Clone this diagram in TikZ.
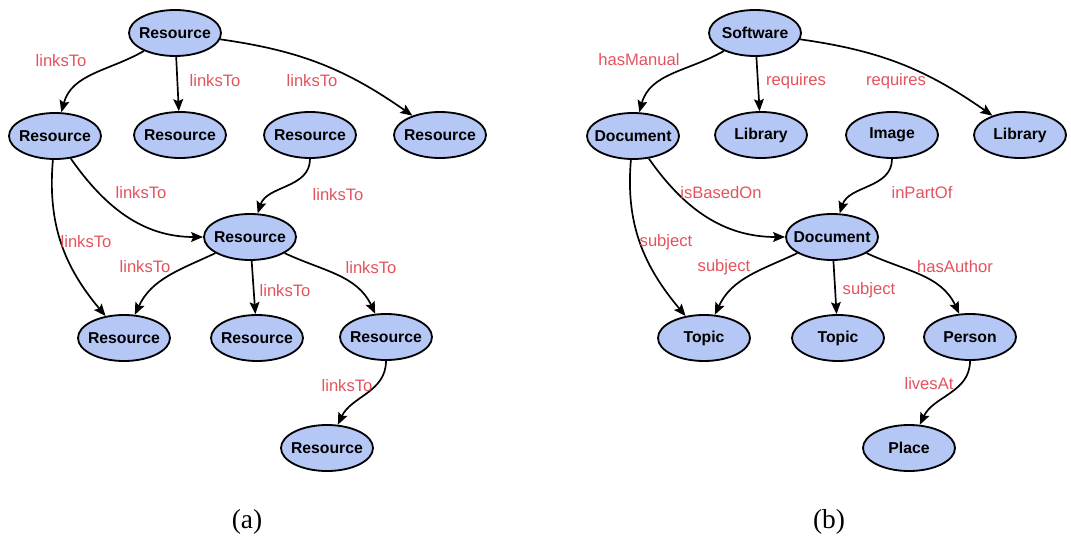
\documentclass[tikz,border=0pt]{standalone}
\usepackage{fontspec}
\setmainfont{Liberation Serif}
\setsansfont{Liberation Sans}
\usetikzlibrary{shapes.geometric,arrows.meta}
\definecolor{nodeblue}{RGB}{181,199,245}
\definecolor{linkred}{RGB}{228,82,92}

\begin{document}
\begin{tikzpicture}
[
    x=0.025cm, y=0.025cm,
    res/.style={ellipse, draw=black, line width=1.3pt, fill=nodeblue,
        minimum width=2.3cm, minimum height=1.15cm, inner xsep=-20pt, inner ysep=0pt,
        font=\sffamily\bfseries\fontsize{11.2}{13}\selectfont},
    rel/.style={-{Stealth[length=8.5pt,width=7pt,inset=1.5pt]}, line width=1.2pt},
    lbl/.style={text=linkred, font=\sffamily\fontsize{11.8}{13}\selectfont},
    subcapt/.style={font=\rmfamily\fontsize{19.5}{22}\selectfont},
]
\useasboundingbox (0,0) rectangle (1071,-539);

% (a)
\node [res] (aTop) at (175,-33) {Resource};
\node [res] (aL1) at (55,-136) {Resource};
\node [res] (aL2) at (180,-135) {Resource};
\node [res] (aL3) at (310,-135) {Resource};
\node [res] (aL4) at (440,-135) {Resource};
\node [res] (aMid) at (250,-237) {Resource};
\node [res] (aB1) at (124,-338) {Resource};
\node [res] (aB2) at (257,-338) {Resource};
\node [res] (aB3) at (386,-337) {Resource};
\node [res] (aB4) at (327,-448) {Resource};

\draw [rel] (aTop) to[out=210, in=75] (aL1);
\draw [rel] (aTop) -- (aL2);
\draw [rel] (aTop) to[out=-8, in=145] (aL4);
\draw [rel] (aL3) to[out=-90, in=72] (aMid);
\draw [rel] (aL1) to[out=-55, in=180] (aMid);
\draw [rel] (aL1) to[out=-95, in=130] (aB1);
\draw [rel] (aMid) to[out=205, in=65] (aB1);
\draw [rel] (aMid) -- (aB2);
\draw [rel] (aMid) to[out=-25, in=115] (aB3);
\draw [rel] (aB3) to[out=-90, in=65] (aB4);

\node [lbl] (aT1) at (61,-61) {linksTo};
\node [lbl] (aT2) at (215,-81) {linksTo};
\node [lbl] (aT3) at (312,-81) {linksTo};
\node [lbl] (aT4) at (141,-193) {linksTo};
\node [lbl] (aT5) at (338,-195) {linksTo};
\node [lbl] (aT6) at (86,-242) {linksTo};
\node [lbl] (aT7) at (145,-267) {linksTo};
\node [lbl] (aT8) at (371,-268) {linksTo};
\node [lbl] (aT9) at (285,-291) {linksTo};
\node [lbl] (aT10) at (347,-386) {linksTo};

\node [subcapt] (capA) at (247,-522) {(a)};

% (b)
\node [res] (bTop) at (755,-33) {Software};
\node [res] (bDoc) at (633,-136) {Document};
\node [res] (bLib) at (761,-135) {Library};
\node [res] (bImg) at (892,-135) {Image};
\node [res] (bLib2) at (1020,-135) {Library};
\node [res] (bMid) at (832,-237) {Document};
\node [res] (bTop1) at (704,-338) {Topic};
\node [res] (bTop2) at (838,-338) {Topic};
\node [res] (bPer) at (970,-337) {Person};
\node [res] (bPla) at (909,-448) {Place};

\draw [rel] (bTop) to[out=210, in=75] (bDoc);
\draw [rel] (bTop) -- (bLib);
\draw [rel] (bTop) to[out=-8, in=145] (bLib2);
\draw [rel] (bImg) to[out=-90, in=72] (bMid);
\draw [rel] (bDoc) to[out=-55, in=180] (bMid);
\draw [rel] (bDoc) to[out=-95, in=130] (bTop1);
\draw [rel] (bMid) to[out=205, in=65] (bTop1);
\draw [rel] (bMid) -- (bTop2);
\draw [rel] (bMid) to[out=-25, in=115] (bPer);
\draw [rel] (bPer) to[out=-90, in=65] (bPla);

\node [lbl] (bT1) at (639,-60) {hasManual};
\node [lbl] (bT2) at (796,-81) {requires};
\node [lbl] (bT3) at (896,-81) {requires};
\node [lbl] (bT4) at (721,-193) {isBasedOn};
\node [lbl] (bT5) at (922,-193) {inPartOf};
\node [lbl] (bT6) at (666,-242) {subject};
\node [lbl] (bT7) at (724,-267) {subject};
\node [lbl] (bT8) at (955,-267) {hasAuthor};
\node [lbl] (bT9) at (869,-290) {subject};
\node [lbl] (bT10) at (929,-384) {livesAt};

\node [subcapt] (capB) at (829,-522) {(b)};
\end{tikzpicture}
\end{document}
